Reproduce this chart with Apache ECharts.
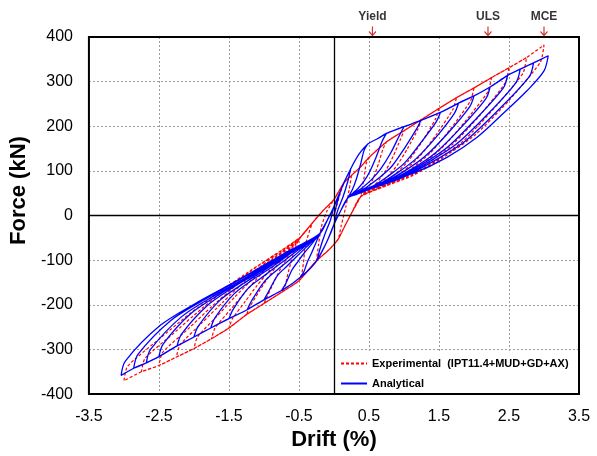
<!DOCTYPE html>
<html><head><meta charset="utf-8">
<script src="https://cdn.jsdelivr.net/npm/echarts@6/dist/echarts.min.js"></script>
<style>html,body{margin:0;padding:0;background:#fff}#c{width:597px;height:456px}</style>
</head><body><div id="c"></div>
<script>
// ---------- Analytical (blue) ----------
const anaPeaksPos = [0.24,0.48,0.75,1.0,1.24,1.52,1.78,2.0,2.23,2.48,2.66,2.85,3.06];
const anaPeaksNeg = [-0.24,-0.48,-0.75,-1.0,-1.24,-1.5,-1.76,-2.0,-2.24,-2.5,-2.68,-2.86,-3.04];
const anaEnvPos = [[-0.2,-40],[-0.1,-12],[0,20],[0.1,58],[0.24,105],[0.36,138],[0.48,160],[0.62,172],[0.75,184],[1.0,199],[1.24,213],[1.52,231],[1.78,252],[2.0,268],[2.23,288],[2.48,314],[2.66,328],[2.85,342],[3.06,358]];
const anaEnvNeg = [[0.2,40],[0.1,12],[0,-20],[-0.1,-58],[-0.24,-100],[-0.36,-122],[-0.48,-138],[-0.62,-155],[-0.75,-168],[-1.0,-189],[-1.24,-211],[-1.5,-231],[-1.76,-252],[-2.0,-272],[-2.24,-292],[-2.5,-316],[-2.68,-330],[-2.86,-342],[-3.04,-358]];
const anaUnloadPos = [
  [[0.2,78],[0.13,42],[0.05,10]],
  [[0.43,146],[0.38,115],[0.32,82],[0.26,57]],
  [[0.69,167],[0.60,130],[0.51,98],[0.43,77],[0.34,60],[0.27,50]],
  [[0.94,181],[0.81,140],[0.67,105],[0.54,81],[0.41,63],[0.30,51]],
  [[1.18,194],[1.0,149],[0.83,111],[0.65,85],[0.48,65],[0.34,52]],
  [[1.46,210],[1.23,161],[1.01,118],[0.78,89],[0.57,67],[0.38,54],[0.26,45]],
  [[1.72,229],[1.45,174],[1.17,127],[0.90,95],[0.64,70],[0.41,55],[0.28,46]],
  [[1.94,244],[1.63,185],[1.31,134],[1.0,99],[0.70,73],[0.44,56],[0.29,46]],
  [[2.17,262],[1.82,198],[1.46,142],[1.11,104],[0.77,76],[0.48,58],[0.30,47]],
  [[2.42,286],[2.02,215],[1.62,153],[1.22,111],[0.84,79],[0.51,60],[0.31,47]],
  [[2.60,298],[2.17,223],[1.74,159],[1.30,115],[0.90,81],[0.54,61],[0.32,48]],
  [[2.79,311],[2.32,232],[1.86,165],[1.39,119],[0.95,83],[0.56,62],[0.33,48]],
  [[3.0,324],[2.76,280],[2.42,229],[2.05,176],[1.62,131],[1.14,95],[0.67,73],[0.35,52]]
];
const anaUnloadNeg = [
  [[-0.2,-75],[-0.13,-42],[-0.05,-10]],
  [[-0.43,-126],[-0.38,-104],[-0.32,-84],[-0.26,-62]],
  [[-0.69,-153],[-0.60,-122],[-0.51,-102],[-0.43,-85],[-0.34,-68],[-0.27,-54]],
  [[-0.94,-172],[-0.81,-135],[-0.67,-113],[-0.54,-93],[-0.41,-73],[-0.30,-56]],
  [[-1.18,-192],[-1.0,-149],[-0.83,-124],[-0.65,-101],[-0.48,-78],[-0.34,-58]],
  [[-1.44,-210],[-1.22,-162],[-0.99,-134],[-0.77,-108],[-0.56,-83],[-0.37,-60]],
  [[-1.70,-229],[-1.43,-176],[-1.16,-144],[-0.89,-116],[-0.64,-87],[-0.41,-63]],
  [[-1.94,-248],[-1.63,-190],[-1.31,-154],[-1.0,-123],[-0.70,-92],[-0.44,-65]],
  [[-2.18,-266],[-1.82,-203],[-1.47,-164],[-1.11,-130],[-0.77,-97],[-0.48,-67]],
  [[-2.44,-288],[-2.04,-219],[-1.63,-176],[-1.23,-139],[-0.85,-102],[-0.51,-70]],
  [[-2.62,-300],[-2.18,-227],[-1.75,-183],[-1.31,-144],[-0.90,-105],[-0.54,-71]],
  [[-2.80,-311],[-2.33,-235],[-1.86,-189],[-1.40,-148],[-0.95,-108],[-0.56,-73]],
  [[-2.98,-326],[-2.48,-246],[-1.98,-197],[-1.48,-154],[-1.01,-112],[-0.59,-74]]
];

// ---------- Experimental (red) ----------
const expPeaksPos = [0.25,0.5,0.75,1.0,1.25,1.5,1.75,2.0,2.25,2.5,2.75,3.0];
const expPeaksNeg = [-0.25,-0.5,-0.75,-1.0,-1.25,-1.5,-1.75,-2.0,-2.25,-2.5,-2.75,-3.0];
const expEnvPos = [[-0.47,-47],[-0.3,-15],[-0.15,12],[0,36],[0.14,73],[0.25,90],[0.38,109],[0.5,130],[0.75,165],[1.0,190],[1.25,215],[1.5,240],[1.75,264],[2.0,286],[2.25,309],[2.5,331],[2.75,354],[3.0,382]];
const expEnvNeg = [[0.38,42],[0.25,5],[0.15,-25],[0.06,-53],[-0.08,-78],[-0.25,-101],[-0.5,-146],[-0.75,-172],[-1.0,-197],[-1.25,-222],[-1.5,-252],[-1.75,-276],[-2.0,-298],[-2.25,-317],[-2.5,-336],[-2.75,-350],[-3.0,-370]];
const expUnloadPos = [
  [[0.22,60],[0.17,20],[0.1,-25]],
  [[0.46,117],[0.43,85],[0.40,58]],
  [[0.70,149],[0.64,118],[0.58,91],[0.53,73],[0.47,59]],
  [[0.95,171],[0.85,134],[0.74,101],[0.64,79],[0.55,63],[0.46,52]],
  [[1.2,194],[1.05,150],[0.90,112],[0.76,86],[0.62,66],[0.49,54]],
  [[1.45,216],[1.26,166],[1.06,122],[0.87,92],[0.69,70],[0.53,56]],
  [[1.70,238],[1.46,181],[1.22,132],[0.99,99],[0.76,73],[0.56,58]],
  [[1.95,257],[1.67,195],[1.38,141],[1.10,104],[0.84,76],[0.60,59]],
  [[2.2,278],[1.87,210],[1.54,151],[1.22,110],[0.91,80],[0.63,61]],
  [[2.45,298],[2.08,224],[1.70,160],[1.33,116],[0.98,83],[0.67,62]],
  [[2.70,319],[2.28,239],[1.86,169],[1.45,122],[1.05,86],[0.70,64]],
  [[2.95,344],[2.49,256],[2.02,181],[1.56,130],[1.13,90],[0.74,66]]
];
const expUnloadNeg = [
  [[-0.22,-65],[-0.18,-25],[-0.1,10]],
  [[-0.46,-131],[-0.43,-98],[-0.41,-66]],
  [[-0.70,-158],[-0.66,-132],[-0.62,-108],[-0.58,-86],[-0.54,-68]],
  [[-0.95,-180],[-0.86,-150],[-0.78,-124],[-0.69,-100],[-0.61,-80],[-0.54,-63]],
  [[-1.2,-204],[-1.07,-170],[-0.94,-139],[-0.81,-111],[-0.68,-86],[-0.57,-66]],
  [[-1.45,-231],[-1.27,-193],[-1.10,-157],[-0.92,-123],[-0.75,-93],[-0.61,-70]],
  [[-1.70,-252],[-1.48,-211],[-1.26,-170],[-1.04,-131],[-0.83,-98],[-0.64,-72]],
  [[-1.95,-272],[-1.68,-227],[-1.42,-183],[-1.15,-140],[-0.90,-104],[-0.68,-74]],
  [[-2.2,-290],[-1.89,-241],[-1.58,-193],[-1.27,-147],[-0.97,-109],[-0.71,-77]],
  [[-2.45,-307],[-2.09,-255],[-1.74,-203],[-1.38,-154],[-1.04,-113],[-0.75,-79]],
  [[-2.70,-320],[-2.30,-265],[-1.90,-210],[-1.50,-160],[-1.12,-117],[-0.78,-81]],
  [[-2.95,-338],[-2.50,-277],[-2.06,-220],[-1.61,-168],[-1.19,-123],[-0.82,-85]]
];

// ---------- Limit-state markers ----------
const limitNames = ['Yield','ULS','MCE'];
const limitDrift = [0.55, 2.2, 3.0];
const limitForce = 400;

const seriesNames = ['Experimental  (IPT11.4+MUD+GD+AX)', 'Analytical'];

function buildPath(peaksPos, peaksNeg, envPos, envNeg, unloadPos, unloadNeg) {
  const out = [[0, 0]];
  for (let i = 0; i < peaksPos.length; i++) {
    let last = out[out.length - 1];
    envPos.forEach(p => { if (p[0] > last[0] && p[0] <= peaksPos[i]) out.push(p); });
    unloadPos[i].forEach(p => out.push(p));
    last = out[out.length - 1];
    envNeg.forEach(p => { if (p[0] < last[0] && p[0] >= peaksNeg[i]) out.push(p); });
    unloadNeg[i].forEach(p => out.push(p));
  }
  return out;
}

const expData = buildPath(expPeaksPos, expPeaksNeg, expEnvPos, expEnvNeg, expUnloadPos, expUnloadNeg);
const anaData = buildPath(anaPeaksPos, anaPeaksNeg, anaEnvPos, anaEnvNeg, anaUnloadPos, anaUnloadNeg);

const FONT = "'Liberation Sans', Arial, sans-serif";
const chart = echarts.init(document.getElementById('c'), null, {renderer: 'canvas'});
chart.setOption({
  animation: false,
  backgroundColor: '#fff',
  grid: {left: 87, right: 18, top: 37, bottom: 61, show: true, borderColor: '#000', borderWidth: 2, backgroundColor: 'transparent', z: 3},
  xAxis: {
    type: 'value', min: -3.5, max: 3.5, interval: 1,
    name: 'Drift (%)', nameLocation: 'middle', nameGap: 28,
    nameTextStyle: {fontFamily: FONT, fontSize: 22, fontWeight: 'bold', color: '#000'},
    axisLine: {show: false}, axisTick: {show: false},
    axisLabel: {fontFamily: FONT, fontSize: 16, color: '#000', margin: 14, formatter: v => v.toFixed(1)},
    splitLine: {show: true, lineStyle: {color: '#9a9a9a', type: [2, 2], width: 1}}
  },
  yAxis: {
    type: 'value', min: -400, max: 400, interval: 100,
    name: 'Force (kN)', nameLocation: 'middle', nameGap: 54,
    nameTextStyle: {fontFamily: FONT, fontSize: 22, fontWeight: 'bold', color: '#000', padding: [0, 0, 0, 50]},
    axisLine: {show: false}, axisTick: {show: false},
    axisLabel: {fontFamily: FONT, fontSize: 16, color: '#000', margin: 16},
    splitLine: {show: true, lineStyle: {color: '#9a9a9a', type: [2, 2], width: 1}}
  },
  legend: {
    data: seriesNames,
    orient: 'vertical', left: 334, top: 352,
    backgroundColor: '#fff', padding: [6, 8, 5, 6], itemGap: 9,
    itemWidth: 26, itemHeight: 10,
    itemStyle: {opacity: 0},
    textStyle: {fontFamily: FONT, fontSize: 11, fontWeight: 'bold', color: '#000'},
    z: 2
  },
  series: [
    {
      name: seriesNames[0], type: 'line', data: expData,
      symbol: 'none', smooth: 0.2, clip: false,
      lineStyle: {color: '#ff0000', width: 1.2, type: [3, 2]},
      itemStyle: {color: '#ff0000'},
      markLine: {
        silent: true, symbol: 'none', label: {show: false},
        lineStyle: {color: '#000', width: 1.3, type: 'solid'},
        data: [{xAxis: 0}, {yAxis: 0}]
      }
    },
    {
      name: seriesNames[1], type: 'line', data: anaData,
      symbol: 'none', smooth: 0.3, clip: false,
      lineStyle: {color: '#0000ff', width: 1.3, type: 'solid'},
      itemStyle: {color: '#0000ff'}
    },
    {
      name: 'limits', type: 'scatter', clip: false, z: 5,
      data: limitDrift.map((d, i) => ({value: [d, limitForce], name: limitNames[i]})),
      symbol: 'path://M4,0 L4,9 M0,5 L4,9 L8,5',
      symbolSize: [7, 9], symbolOffset: [0, -6],
      itemStyle: {color: 'rgba(0,0,0,0)', borderColor: '#c00000', borderWidth: 1.3},
      label: {show: true, position: 'top', distance: 3, formatter: p => p.name,
        fontFamily: FONT, fontSize: 12, fontWeight: 'bold', color: '#000'}
    }
  ]
});
</script>
</body></html>
